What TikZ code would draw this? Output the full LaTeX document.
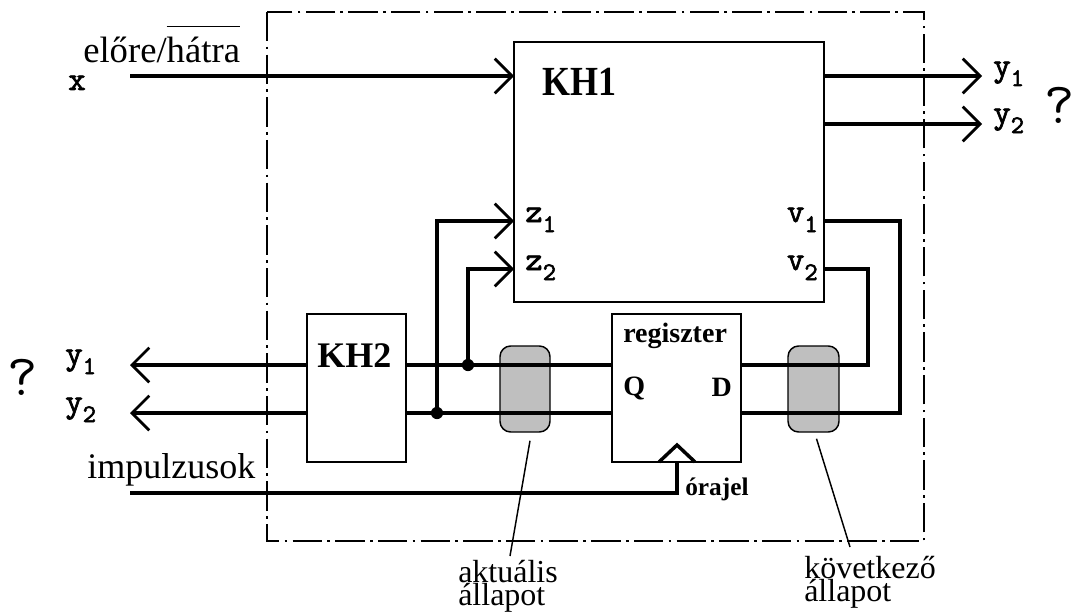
\documentclass[tikz,border=0pt]{standalone}
\usepackage{fontspec}
\setmainfont{Liberation Serif}
\newfontfamily\sigfont{lmmono10-regular.otf}[FakeBold=2.2]
\usetikzlibrary{arrows.meta, fit}

\newcommand\fsz[1]{\fontsize{#1}{#1}\selectfont}
\newcommand\sig[2]{{\sigfont\bfseries\fsz{25}#1\raisebox{-7.5pt}{\fsz{19}#2}}}

\begin{document}
\begin{tikzpicture}[x=0.75pt, y=-0.75pt,
  boundary/.style={line width=1.1pt, dash pattern=on 22pt off 4pt on 2pt off 4pt},
  block/.style={draw, line width=1.5pt, inner sep=0pt},
  capsule/.style={draw, fill=gray!50, line width=1.1pt, rounded corners=8pt, inner sep=0pt},
  wire/.style={line width=2.6pt},
  barb/.style={-{Straight Barb[length=13pt, width=26pt, line width=2pt]}},
  leader/.style={line width=1.1pt},
  lbl/.style={inner sep=0pt, anchor=base west}]
  \useasboundingbox (0,0) rectangle (1073,613);
  % ---------- keret ----------
  \draw[boundary] (267,12) rectangle (924,541);
  % ---------- blokkok ----------
  \node[capsule, fit={(500,346) (550,432)}] (akt) {};
  \node[capsule, fit={(788,346) (839,432)}] (kov) {};
  \node[block, fit={(514,42) (824,302)}] (kh1) {};
  \node[block, fit={(307,314) (406,462)}] (kh2) {};
  \node[block, fit={(612,314) (741,462)}] (reg) {};
  \node[lbl, font=\bfseries\fsz{27}] (kh1lbl) at (542,96) {\scalebox{1}[1.15]{KH1}};
  \node[lbl, font=\bfseries\fsz{27}] (kh2lbl) at (317,367) {KH2};
  \node[lbl, font=\bfseries\fsz{21}] (reglbl) at (623,342) {regiszter};
  \node[lbl, font=\bfseries\fsz{21}] (q) at (623,395) {Q};
  \node[lbl, font=\bfseries\fsz{21}, anchor=base east] (d) at (732,396) {D};
  % ---------- csatlakozasok ----------
  \coordinate (xin) at (130,76);   \coordinate (kh1x) at (514,76);
  \coordinate (kh1y1) at (824,76); \coordinate (oy1) at (982,76);
  \coordinate (kh1y2) at (824,124); \coordinate (oy2) at (982,124);
  \coordinate (z1) at (514,221);   \coordinate (z2) at (514,269);
  \coordinate (v1) at (824,221);   \coordinate (v2) at (824,269);
  \coordinate (kh2y1) at (307,365); \coordinate (ly1) at (130,365);
  \coordinate (kh2y2) at (307,413); \coordinate (ly2) at (130,413);
  \coordinate (kh2q1) at (406,365); \coordinate (regq1) at (612,365);
  \coordinate (kh2q2) at (406,413); \coordinate (regq2) at (612,413);
  \coordinate (regd1) at (741,365); \coordinate (regd2) at (741,413);
  \coordinate (j1) at (468,365);   \coordinate (j2) at (437,413);
  \coordinate (imp) at (130,493);  \coordinate (clk) at (677,462);
  % ---------- vezetekek ----------
  \draw[wire, barb, line width=3.4pt] (xin) -- (kh1x);
  \draw[wire, barb] (kh1y1) -- (oy1);
  \draw[wire, barb] (kh1y2) -- (oy2);
  \draw[wire, barb] (kh2y1) -- (ly1);
  \draw[wire, barb] (kh2y2) -- (ly2);
  \draw[wire] (kh2q1) -- (regq1);
  \draw[wire] (kh2q2) -- (regq2);
  \draw[wire, barb] (j1) |- (z2);
  \draw[wire, barb] (j2) |- (z1);
  \draw[wire] (regd1) -- (868,365) |- (v2);
  \draw[wire] (regd2) -- (900,413) |- (v1);
  \draw[wire] (imp) -| (clk);
  \draw[wire] (659,462) -- (677,445) -- (695,462);
  \fill (j1) circle (4.6pt);
  \fill (j2) circle (4.6pt);
  % ---------- jelek ----------
  \node[lbl, font=\fsz{27.5}] (irany) at (83,63)
    {előre/$\overline{\rule{0pt}{26pt}\mbox{hátra}}$};
  \node[lbl] (xlbl) at (68,90) {\sig{x}{}};
  \node[lbl] (oy1lbl) at (993,76) {\sig{y}{1}};
  \node[lbl] (oy2lbl) at (993,123) {\sig{y}{2}};
  \node[inner sep=0pt, anchor=base] (kerd1) at (1060,123) {\ttfamily\fsz{44}?};
  \node[lbl] (z1lbl) at (525,222) {\sig{z}{1}};
  \node[lbl] (z2lbl) at (525,270) {\sig{z}{2}};
  \node[lbl, anchor=base east] (v1lbl) at (818,222) {\sig{v}{1}};
  \node[lbl, anchor=base east] (v2lbl) at (818,270) {\sig{v}{2}};
  \node[lbl] (ly1lbl) at (65,364) {\sig{y}{1}};
  \node[lbl] (ly2lbl) at (65,412) {\sig{y}{2}};
  \node[inner sep=0pt, anchor=base] (kerd2) at (23,395) {\ttfamily\fsz{44}?};
  \node[lbl, font=\fsz{27}] (implbl) at (87,478) {impulzusok};
  \node[lbl, font=\bfseries\fsz{19}] (ora) at (685,495) {órajel};
  % ---------- allapotok ----------
  \node[inner sep=0pt, anchor=north west, align=left,
    font={\fontsize{24}{17}\selectfont}] (aktlbl) at (458,560) {aktuális\\állapot};
  \node[inner sep=0pt, anchor=north west, align=left,
    font={\fontsize{24}{17}\selectfont}] (kovlbl) at (804,556) {következő\\állapot};
  \coordinate (aktend) at (510,556);
  \coordinate (kovend) at (850,547);
  \draw[leader] ([shift={(5,8)}]akt.south) -- (aktend);
  \draw[leader] ([shift={(3,6)}]kov.south) -- (kovend);
\end{tikzpicture}
\end{document}
